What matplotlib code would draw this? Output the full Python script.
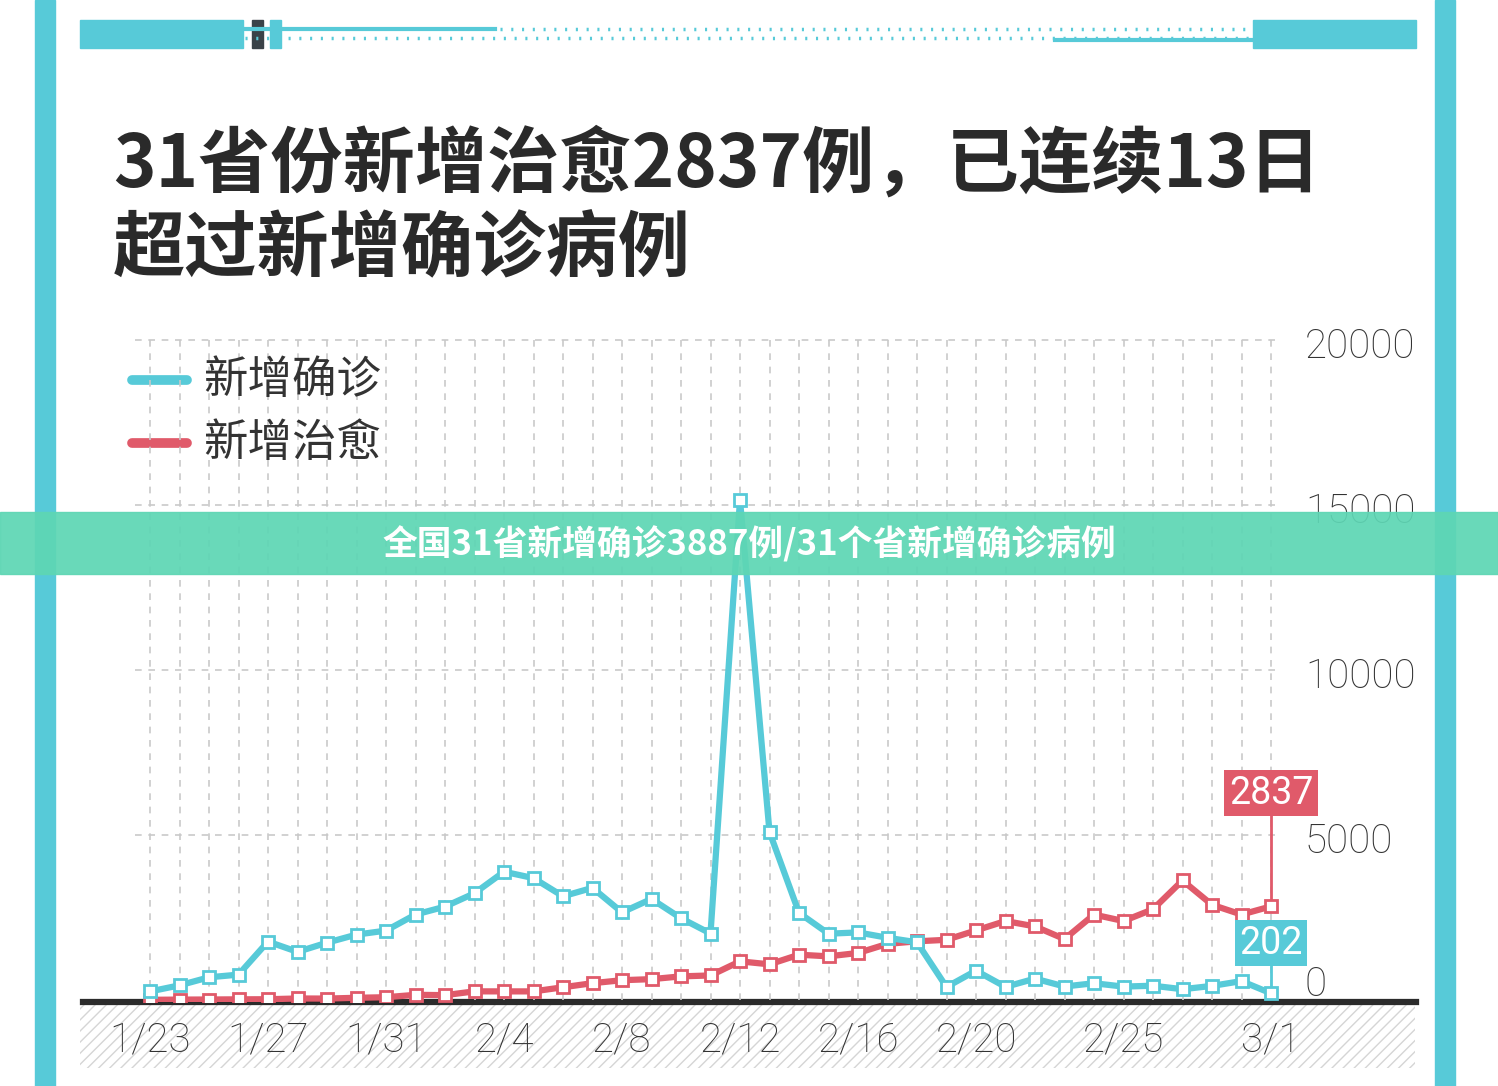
import matplotlib
matplotlib.use("Agg")
import matplotlib.pyplot as plt
from matplotlib.patches import Rectangle
import numpy as np

plt.rcParams["font.family"] = ["Noto Sans CJK SC", "DejaVu Sans"]

CYAN = "#57CAD8"
RED = "#E05A6A"
INK = "#333333"
GRID = "#C9C9C9"
NUM_FONT = ["Roboto", "DejaVu Sans"]

W, H = 1498, 1086

dates = ["1/23", "1/24", "1/25", "1/26", "1/27", "1/28", "1/29", "1/30", "1/31",
         "2/1", "2/2", "2/3", "2/4", "2/5", "2/6", "2/7", "2/8", "2/9", "2/10",
         "2/11", "2/12", "2/13", "2/14", "2/15", "2/16", "2/17", "2/18", "2/19",
         "2/20", "2/21", "2/22", "2/23", "2/24", "2/25", "2/26", "2/27", "2/28",
         "2/29", "3/1"]
confirmed = [259, 444, 688, 769, 1771, 1459, 1737, 1982, 2102, 2590, 2829, 3235,
             3887, 3694, 3143, 3399, 2656, 3062, 2478, 2015, 15152, 5090, 2641,
             2009, 2048, 1886, 1749, 394, 889, 397, 648, 409, 508, 406, 433, 327,
             427, 573, 202]
cured = [6, 12, 15, 20, 23, 46, 43, 67, 84, 157, 147, 262, 261, 261, 386, 510,
         600, 632, 716, 744, 1171, 1081, 1373, 1323, 1425, 1701, 1779, 1824,
         2109, 2393, 2230, 1846, 2589, 2393, 2750, 3622, 2885, 2589, 2837]
tick_labels = ["1/23", "1/27", "1/31", "2/4", "2/8", "2/12", "2/16", "2/20", "2/25", "3/1"]
y_ticks = [0, 5000, 10000, 15000, 20000]


def fx(px):
    return px / W


def fy(py):
    return 1 - py / H


fig = plt.figure(figsize=(W / 100, H / 100), dpi=100)
fig.patch.set_facecolor("white")

# side bars
fig.patches.append(Rectangle((fx(35), 0), fx(20), 1, transform=fig.transFigure, color=CYAN))
fig.patches.append(Rectangle((fx(1435), 0), fx(20), 1, transform=fig.transFigure, color=CYAN))
# top decoration
fig.patches.append(Rectangle((fx(80), fy(48)), fx(163), 28 / H, transform=fig.transFigure, color=CYAN))
fig.patches.append(Rectangle((fx(1253), fy(48)), fx(163), 28 / H, transform=fig.transFigure, color=CYAN))
fig.patches.append(Rectangle((fx(252), fy(48)), fx(11), 28 / H, transform=fig.transFigure, color="#3A4248"))
fig.patches.append(Rectangle((fx(270), fy(48)), fx(11), 28 / H, transform=fig.transFigure, color=CYAN))
fig.add_artist(plt.Line2D([fx(243), fx(495)], [fy(29), fy(29)], color=CYAN, lw=3))
fig.add_artist(plt.Line2D([fx(1055), fx(1253)], [fy(40), fy(40)], color=CYAN, lw=3))
fig.add_artist(plt.Line2D([fx(245), fx(1253)], [fy(38), fy(38)], color=CYAN, lw=2.5, ls=(0, (0.6, 2.5))))
fig.add_artist(plt.Line2D([fx(500), fx(1253)], [fy(29), fy(29)], color=CYAN, lw=2.5, ls=(0, (0.6, 2.5))))

fig.text(fx(113), fy(165), "31省份新增治愈2837例，已连续13日", fontsize=52, weight="bold",
         color="#2A2A2A", va="center", ha="left")
fig.text(fx(113), fy(250), "超过新增确诊病例", fontsize=52, weight="bold",
         color="#2A2A2A", va="center", ha="left")

# hatched band under axis
fig.patches.append(Rectangle((fx(80), fy(1068)), fx(1335), 63 / H, transform=fig.transFigure,
                             facecolor="white", edgecolor="#D5D5D5", hatch="///", lw=0))
fig.add_artist(plt.Line2D([fx(83), fx(1416)], [fy(1002), fy(1002)], color="#2B2B2B", lw=4.5))

# main axes
left, right, top, bottom = 120, 1290, 330, 1002
ax = fig.add_axes([fx(left), fy(bottom), fx(right - left), (bottom - top) / H])
ax.set_zorder(3)
ax.set_facecolor("none")
for s in ax.spines.values():
    s.set_visible(False)
px_day = 29.5
px_unit = 33 / 1000
x = np.arange(len(dates))
ax.set_xlim(-(150 - left) / px_day, 38 + (right - 1271) / px_day)
ax.set_ylim(-(bottom - 1000) / px_unit, (1000 - top) / px_unit)
ax.set_xticks([])
ax.set_yticks([])

for d in x:
    ax.plot([d, d], [0, 20000], color=GRID, lw=1.2, ls=(0, (4, 4)), zorder=1)
for v in y_ticks[1:]:
    ax.plot([-0.5, 38.3], [v, v], color=GRID, lw=1.2, ls=(0, (4, 4)), zorder=1)
    ax.text(39.15, v - 200, str(v), fontsize=29, color=INK, va="center", ha="left",
            family=NUM_FONT, weight="light", clip_on=False)
ax.text(39.15, 450, "0", fontsize=29, color=INK, va="center", ha="left",
        family=NUM_FONT, weight="light", clip_on=False)

ax.plot(x, cured, color=RED, lw=4.5, marker="s", ms=9, mfc="white", mec=RED, mew=2, zorder=3)
ax.plot(x, confirmed, color=CYAN, lw=4.5, marker="s", ms=9, mfc="white", mec=CYAN, mew=2, zorder=4)

# end labels
ax.plot([38, 38], [cured[-1], 6270], color=RED, lw=2, zorder=2)
ax.text(38, 6270, str(cured[-1]), fontsize=27, color="white", ha="center", va="center",
        family=NUM_FONT, bbox=dict(boxstyle="square,pad=0.12", fc=RED, ec="none"), zorder=5)
ax.plot([38, 38], [confirmed[-1], 1727], color=CYAN, lw=2, zorder=2)
ax.text(38, 1727, str(confirmed[-1]), fontsize=27, color="white", ha="center", va="center",
        family=NUM_FONT, bbox=dict(boxstyle="square,pad=0.12", fc=CYAN, ec="none"), zorder=5)

for lab in tick_labels:
    ax.text(dates.index(lab), -1220, lab, fontsize=29, color=INK, ha="center", va="center",
            family=NUM_FONT, weight="light", clip_on=False)

# legend
for i, (lab, col) in enumerate([("新增确诊", CYAN), ("新增治愈", RED)]):
    py = 380 + i * 63
    fig.add_artist(plt.Line2D([fx(132), fx(187)], [fy(py), fy(py)], color=col, lw=7,
                              solid_capstyle="round"))
    fig.text(fx(203), fy(py), lab, fontsize=32, color=INK, va="center", ha="left")

# overlay banner
fig.patches.append(Rectangle((0, fy(574)), 1, 62 / H, transform=fig.transFigure,
                             color="#5ED6B4", alpha=0.93, zorder=20))
fig.text(0.5, fy(544), "全国31省新增确诊3887例/31个省新增确诊病例", fontsize=25, weight="bold",
         color="white", ha="center", va="center", zorder=21)

fig.savefig("out.png", dpi=100)
